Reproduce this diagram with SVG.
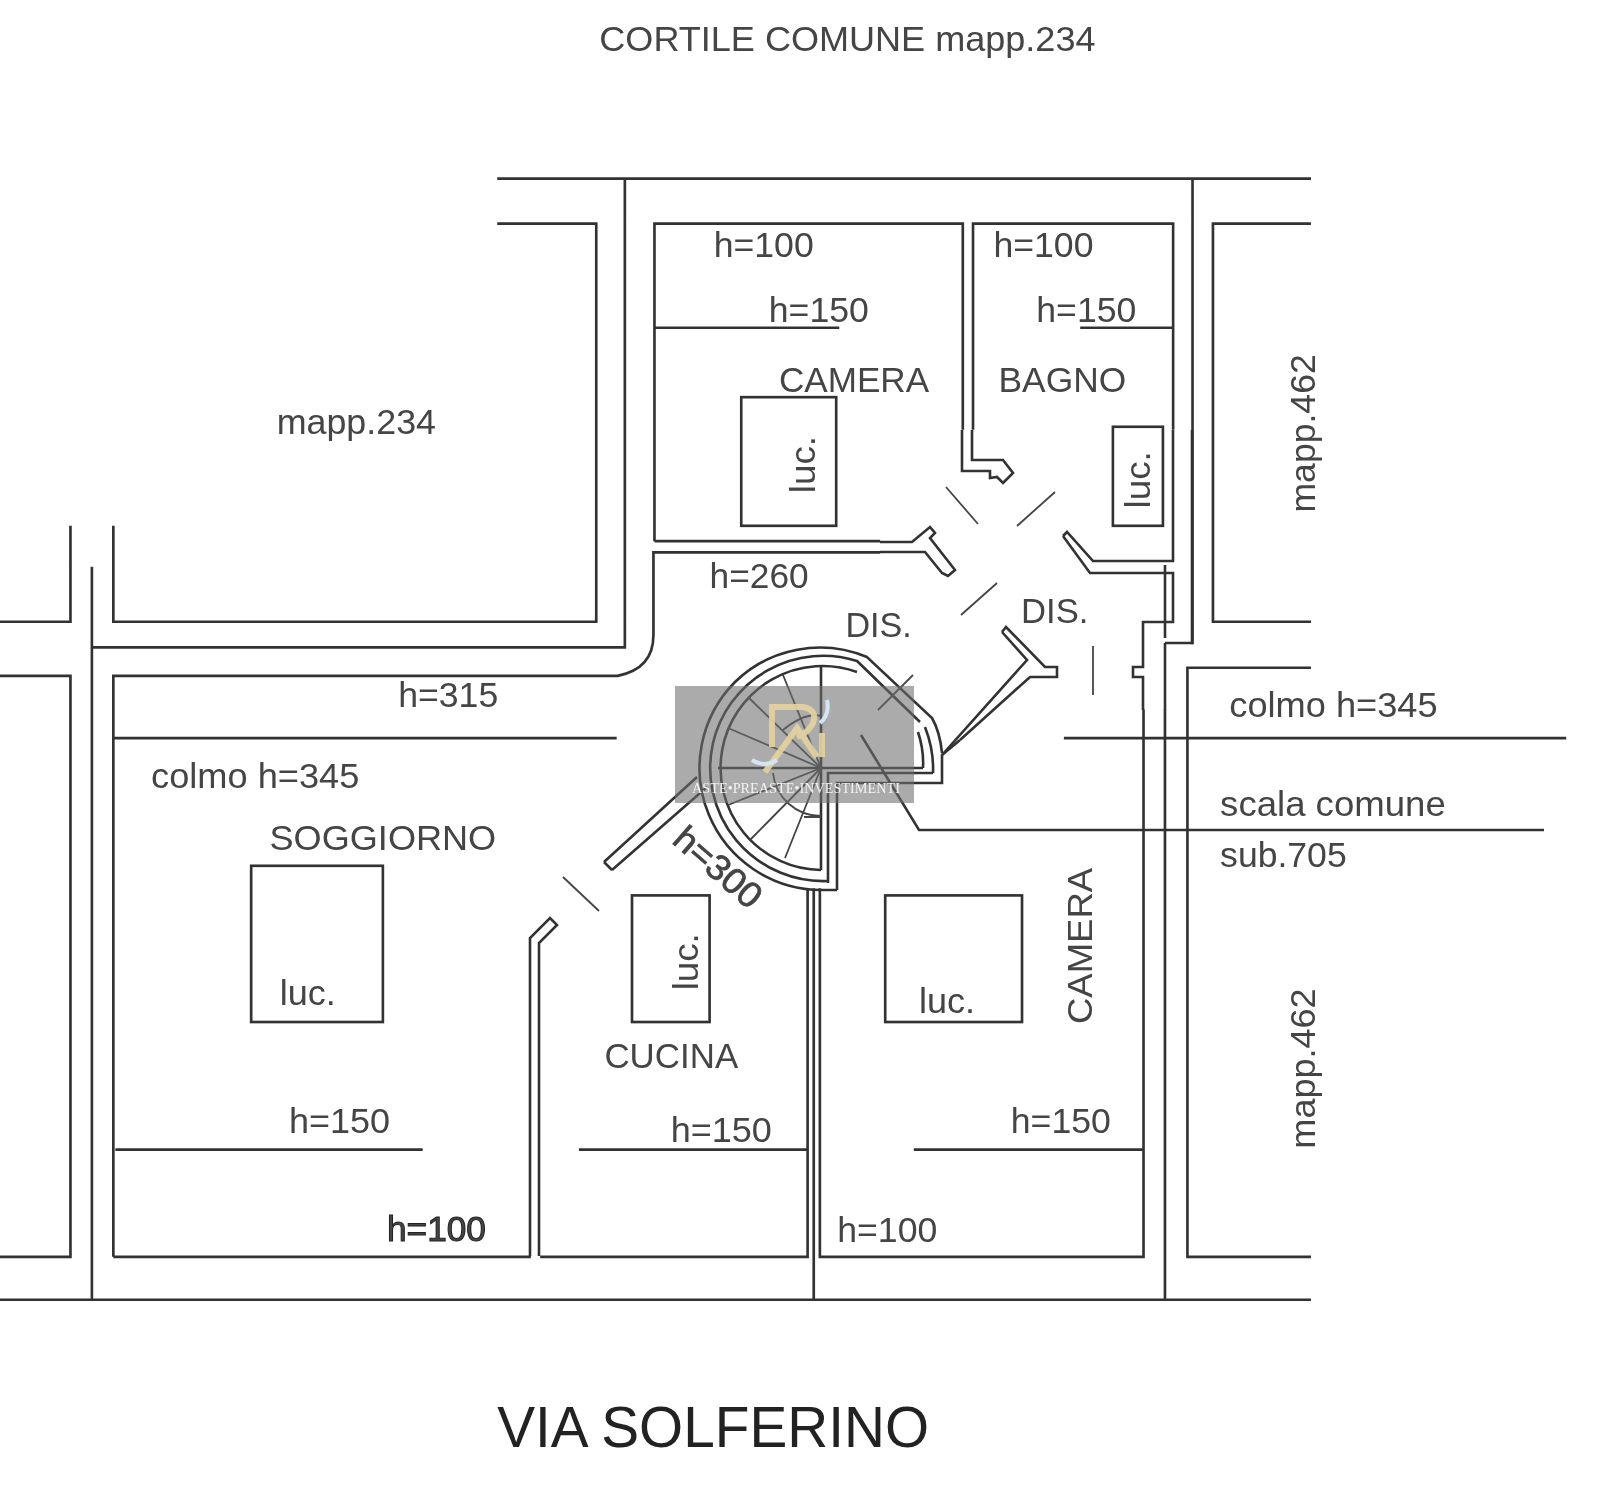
<svg xmlns="http://www.w3.org/2000/svg" width="1600" height="1495" viewBox="0 0 1600 1495">
<style>
.l{fill:none;stroke:#333;stroke-width:2.6}
.t{stroke-width:1.8;stroke:#444;fill:none}
text{font-family:"Liberation Sans",Arial,sans-serif;font-size:35px;fill:#444}
.big{font-size:56px;fill:#222}
.wm{font-family:"Liberation Serif",serif;font-size:15px;fill:#f2f2f2}
</style>
<defs><filter id="soft" x="0" y="0" width="100%" height="100%"><feGaussianBlur stdDeviation="0.7"/></filter></defs>
<rect width="1600" height="1495" fill="#fff"/>
<g filter="url(#soft)">
<g id="walls-plan" transform="scale(1.021)">
<path class="l" d="M487,175H1284M487,219H584V609H111V515M612,175V634H90M90,555V1273M69,515V609H0M0,662H69V1231H0M0,1273H1284"/>
<path class="l" d="M111,1231V662H605Q640,655 640,622V541H862M641,530V219H943V421M953,421V219H1149V421M641,530H862"/>
<path class="l" d="M641,321H822M1058,321H1149M111,723H604M1042,723H1534M113,1126H414M567,1126H791M895,1126H1120"/>
<path class="l" d="M111,1231H520M529,1231H791V870M797,870V1273M803,870V1231H1120V695M1141,695V1273"/>
<path class="l" d="M1284,219H1188V609H1284M1168,175V631M1284,654H1163V1231H1284"/>
<rect class="l" x="726" y="389" width="93" height="126"/>
<rect class="l" x="1090" y="418" width="49" height="97"/>
<rect class="l" x="246" y="848" width="129" height="153"/>
<rect class="l" x="619" y="877" width="76" height="124"/>
<rect class="l" x="867" y="877" width="134" height="124"/>
</g>
<g id="door-details">
<path class="l" d="M880,542H912L930,527L935,533L930,538L955,570L948,576L942,573L925,552H880"/>
<path class="l" d="M962,430V471H990V478L997,477L1003,483L1007,479L1013,473L1003,460H972V430"/>
<path class="l" d="M1063,536L1067,532L1093,561H1173V430M1063,536L1090,573H1173V622H1143V667H1133V677H1143V710M1165,565V638M1165,643V710M1192,430V643H1165"/>
<path class="l" d="M1002,632L1006,627L1045,667H1057V677H1030L960,740M1002,632L1027,660L942,755"/>
<path class="t" d="M946,487L978,524M1055,492L1017,526M997,583L961,615M1093,646V695M563,877L599,911"/>
<path class="l" d="M604,862L697,777M612,870L707,787M604,862L612,870"/>
<path class="l" d="M530,1256V938L550,918L557,925L539,943V1256"/>
</g>
<g id="stair">
<path class="l" d="M837,890H821A122,122 0 0 1 735,682A122,122 0 0 1 867,657L932,718Q940,732 942,753"/>
<path class="l" d="M828,881A113,113 0 0 1 713,743A113,113 0 0 1 857,661L920,722"/>
<path class="l" d="M821,870A102,102 0 1 1 857,672"/>
<path class="l" d="M821,667V870M718,768H923M828,883V773H933M837,890V783H942V755L960,740M918,732Q924,750 923,768M925,727Q934,750 933,773"/>
<path class="t" d="M821,768L783,675M821,768L748,697M821,768L728,728M821,768L728,805M821,768L750,840M821,768L785,858M804,817H821M773,773A48,48 0 0 0 821,816M783,730Q805,712 821,716"/>
<path class="t" d="M878,710L913,675"/>
<path class="l" d="M861,735L919,830H1544"/>
</g>
<g id="labels" transform="scale(1.021)">
<text x="587" y="50" textLength="486" lengthAdjust="spacingAndGlyphs">CORTILE COMUNE mapp.234</text>
<text x="271" y="425" textLength="156" lengthAdjust="spacingAndGlyphs">mapp.234</text>
<text x="699" y="252" textLength="98" lengthAdjust="spacingAndGlyphs">h=100</text>
<text x="973" y="252" textLength="98" lengthAdjust="spacingAndGlyphs">h=100</text>
<text x="753" y="315" textLength="98" lengthAdjust="spacingAndGlyphs">h=150</text>
<text x="1015" y="315" textLength="98" lengthAdjust="spacingAndGlyphs">h=150</text>
<text x="763" y="384" textLength="147" lengthAdjust="spacingAndGlyphs">CAMERA</text>
<text x="978" y="384" textLength="125" lengthAdjust="spacingAndGlyphs">BAGNO</text>
<text x="695" y="576" textLength="97" lengthAdjust="spacingAndGlyphs">h=260</text>
<text x="828" y="624" textLength="65" lengthAdjust="spacingAndGlyphs">DIS.</text>
<text x="1000" y="610" textLength="66" lengthAdjust="spacingAndGlyphs">DIS.</text>
<text x="390" y="692" textLength="98" lengthAdjust="spacingAndGlyphs">h=315</text>
<text x="1204" y="702" textLength="204" lengthAdjust="spacingAndGlyphs">colmo h=345</text>
<text x="148" y="772" textLength="204" lengthAdjust="spacingAndGlyphs">colmo h=345</text>
<text x="1195" y="799" textLength="221" lengthAdjust="spacingAndGlyphs">scala comune</text>
<text x="1195" y="849" textLength="124" lengthAdjust="spacingAndGlyphs">sub.705</text>
<text x="264" y="833" textLength="222" lengthAdjust="spacingAndGlyphs">SOGGIORNO</text>
<text x="274" y="984" textLength="55" lengthAdjust="spacingAndGlyphs">luc.</text>
<text x="900" y="992" textLength="55" lengthAdjust="spacingAndGlyphs">luc.</text>
<text x="592" y="1046" textLength="131" lengthAdjust="spacingAndGlyphs">CUCINA</text>
<text x="283" y="1110" textLength="99" lengthAdjust="spacingAndGlyphs">h=150</text>
<text x="657" y="1119" textLength="99" lengthAdjust="spacingAndGlyphs">h=150</text>
<text x="990" y="1110" textLength="98" lengthAdjust="spacingAndGlyphs">h=150</text>
<text x="379" y="1215" textLength="97" lengthAdjust="spacingAndGlyphs" stroke="#222" stroke-width="1">h=100</text>
<text x="820" y="1216" textLength="98" lengthAdjust="spacingAndGlyphs">h=100</text>
<text class="big" x="487" y="1417" textLength="423" lengthAdjust="spacingAndGlyphs">VIA SOLFERINO</text>
<text transform="translate(1288,502) rotate(-90)" textLength="155" lengthAdjust="spacingAndGlyphs">mapp.462</text>
<text transform="translate(1288,1125) rotate(-90)" textLength="157" lengthAdjust="spacingAndGlyphs">mapp.462</text>
<text transform="translate(1070,1003) rotate(-90)" textLength="153" lengthAdjust="spacingAndGlyphs">CAMERA</text>
<text transform="translate(798,483) rotate(-90)" textLength="56" lengthAdjust="spacingAndGlyphs">luc.</text>
<text transform="translate(1126,498) rotate(-90)" textLength="56" lengthAdjust="spacingAndGlyphs">luc.</text>
<text transform="translate(684,970) rotate(-90)" textLength="56" lengthAdjust="spacingAndGlyphs">luc.</text>
<text transform="translate(657,825) rotate(41)" textLength="102" lengthAdjust="spacingAndGlyphs" stroke="#444" stroke-width="0.7">h=300</text>
</g>
<g id="watermark">
<rect x="675" y="686" width="239" height="117" fill="#6e6e6e" fill-opacity="0.58"/>
<path d="M772,747V707H803Q818,710 813,723Q808,733 797,737M765,772L797,728L817,757M822,733V757" fill="none" stroke="#e6d3a0" stroke-width="6" stroke-opacity="0.9"/>
<path d="M752,760Q765,768 777,760M827,700Q830,715 820,723" fill="none" stroke="#d5e4f5" stroke-width="4"/>
<text class="wm" x="692" y="793" textLength="208" lengthAdjust="spacingAndGlyphs">ASTE•PREASTE•INVESTIMENTI</text>
</g>
</g>
</svg>
